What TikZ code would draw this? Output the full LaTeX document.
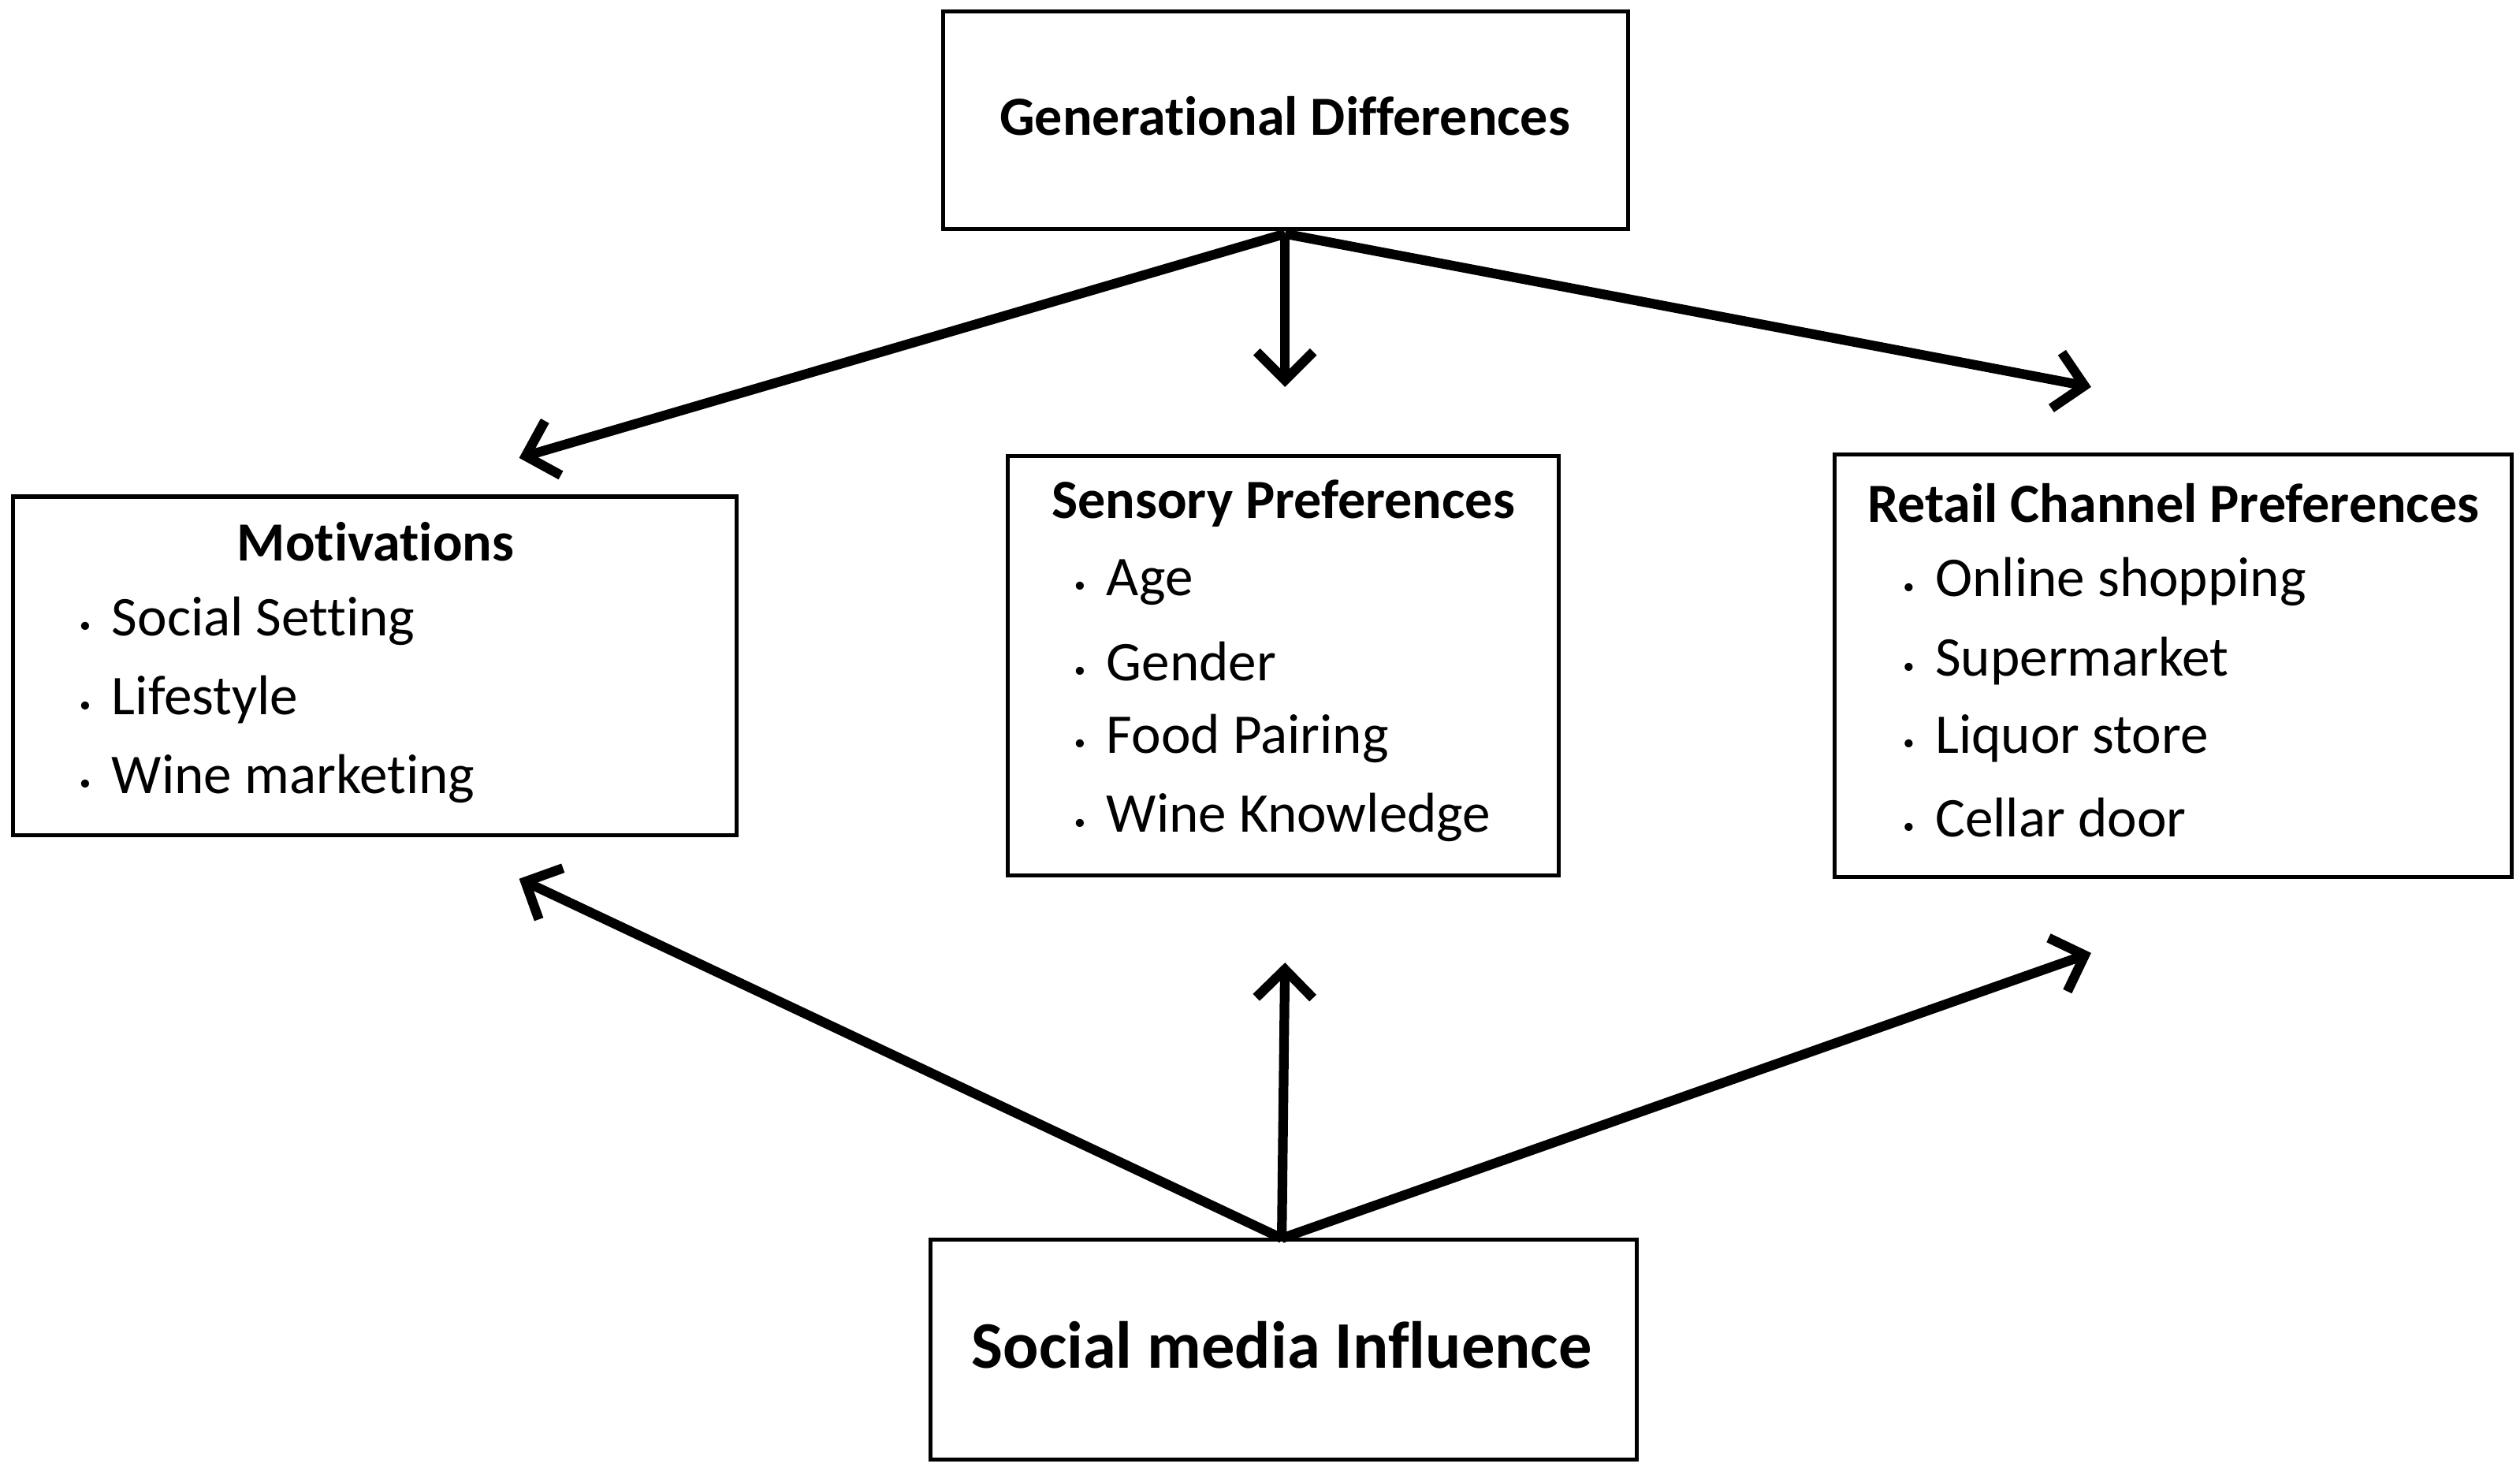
\documentclass[tikz,border=0pt]{standalone}
\usepackage{fontspec}
\setmainfont{Carlito}[Ligatures={NoCommon}]
\usetikzlibrary{arrows.meta}
\newcommand{\itmb}{\makebox[11.4pt][l]{\raisebox{1pt}{\footnotesize\textbullet}}}
\begin{document}
\begin{tikzpicture}[x=0.02cm,y=-0.02cm,
  box/.style={draw,line width=1.4pt,inner sep=0pt},
  arr/.style={line width=3.4pt,-{Straight Barb[length=10pt,width=20pt,line width=3.4pt]}},
  ttl/.style={font=\fontsize{19.5}{22}\selectfont\bfseries},
  itm/.style={font=\fontsize{19.8}{22}\selectfont,anchor=west,inner sep=0pt}]
\useasboundingbox (0,0) rectangle (1563,912);
\node[box,minimum width=425*0.02cm,minimum height=135*0.02cm] (gen) at (797.5,74.5) {};
\node[box,minimum width=449*0.02cm,minimum height=210*0.02cm] (mot) at (232.5,413) {};
\node[box,minimum width=342*0.02cm,minimum height=260*0.02cm] (sen) at (796,413) {};
\node[box,minimum width=420*0.02cm,minimum height=262*0.02cm] (ret) at (1348,413) {};
\node[box,minimum width=438*0.02cm,minimum height=136*0.02cm] (soc) at (796,837) {};
\node[ttl] (gent) at (797,72) {Generational Differences};
\node[font=\fontsize{23.5}{26}\selectfont\bfseries] (soct) at (795,834) {Social media Influence};
\node[ttl] (mott) at (233,336) {Motivations};
\node[itm] (m1) at (49,385) {\itmb Social Setting};
\node[itm] (m2) at (49,434) {\itmb Lifestyle};
\node[itm] (m3) at (49,483) {\itmb Wine marketing};
\node[ttl] (sent) at (796,312) {Sensory Preferences};
\node[itm] (s1) at (666,361) {\itmb Age};
\node[itm] (s2) at (666,410) {\itmb Gender};
\node[itm] (s3) at (666,458) {\itmb Food Pairing};
\node[itm] (s4) at (666,507) {\itmb Wine Knowledge};
\node[ttl] (rett) at (1348,312) {Retail Channel Preferences};
\node[itm] (r1) at (1180,361) {\itmb Online shopping};
\node[itm] (r2) at (1180,410) {\itmb Supermarket};
\node[itm] (r3) at (1180,458) {\itmb Liquor store};
\node[itm] (r4) at (1180,507) {\itmb Cellar door};
\coordinate (gs) at (797,145);
\coordinate (ss) at (795,768);
\coordinate (g1) at (322,284);
\coordinate (g2) at (797,240);
\coordinate (g3) at (1297,240);
\coordinate (b1) at (322,545);
\coordinate (b2) at (797,597);
\coordinate (b3) at (1297,591);
\draw[arr] (gs) -- (g1);
\draw[arr] (gs) -- (g2);
\draw[arr] (gs) -- (g3);
\draw[arr] (ss) -- (b1);
\draw[arr] (ss) -- (b2);
\draw[arr] (ss) -- (b3);
\end{tikzpicture}
\end{document}
